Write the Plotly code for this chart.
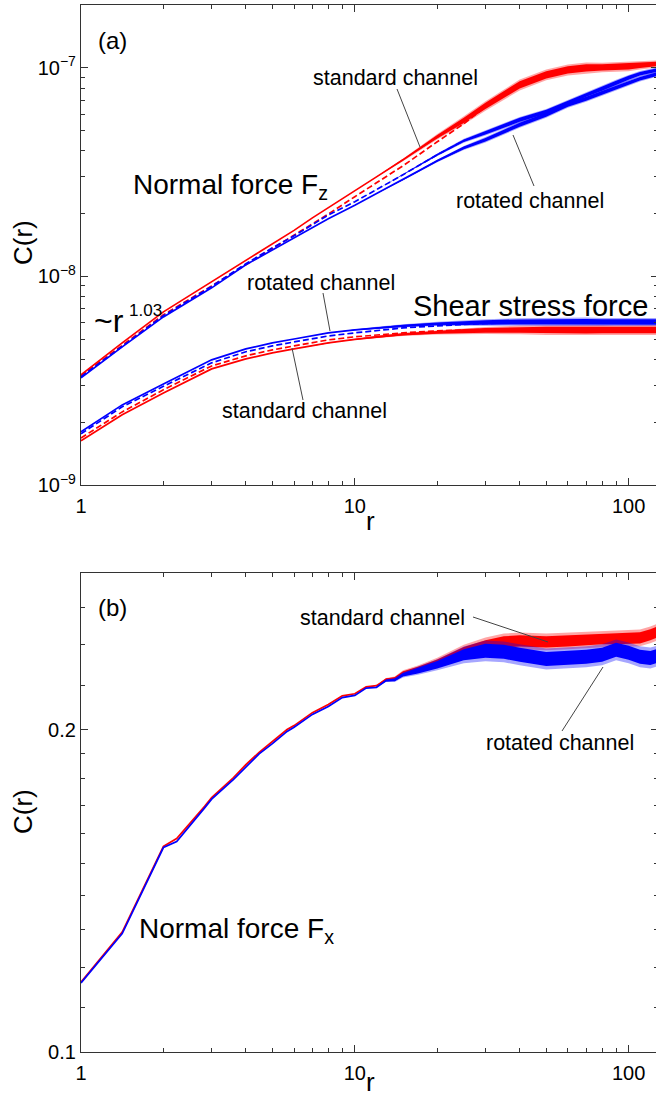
import numpy as np
import plotly.graph_objects as go

# ---------------- panel (a): normal force Fz and shear stress force ----------------
r_a = [1, 1.414, 2, 3, 4, 5, 6, 7, 8, 10, 12, 15, 20, 25, 30, 40, 50, 60, 70, 80, 90, 100, 110, 128]

fz_std_solid = [3.37e-9, 4.80e-9, 6.76e-9, 9.41e-9, 1.192e-8, 1.432e-8, 1.662e-8, 1.908e-8, 2.13e-8, 2.57e-8,
                3.00e-8, 3.62e-8, 4.67e-8, 5.60e-8, 6.57e-8, 8.29e-8, 9.26e-8, 9.78e-8, 1.0e-7, 1.005e-7,
                1.011e-7, 1.017e-7, 1.028e-7, 1.045e-7]
fz_std_dash = [3.33e-9, 4.69e-9, 6.54e-9, 9.00e-9, 1.136e-8, 1.355e-8, 1.564e-8, 1.785e-8, 1.99e-8, 2.41e-8,
               2.81e-8, 3.39e-8, 4.42e-8, 5.39e-8, 6.50e-8, 8.20e-8, 9.15e-8, 9.67e-8, 9.89e-8, 1.0e-7,
               1.005e-7, 1.011e-7, 1.022e-7, 1.039e-7]
fz_rot_solid = [3.26e-9, 4.59e-9, 6.39e-9, 8.81e-9, 1.136e-8, 1.34e-8, 1.53e-8, 1.71e-8, 1.89e-8, 2.19e-8,
                2.49e-8, 2.90e-8, 3.58e-8, 4.13e-8, 4.52e-8, 5.33e-8, 5.95e-8, 6.65e-8, 7.10e-8, 7.59e-8,
                8.02e-8, 8.48e-8, 8.86e-8, 9.36e-8]
fz_rot_dash = [3.30e-9, 4.64e-9, 6.47e-9, 8.95e-9, 1.15e-8, 1.37e-8, 1.564e-8, 1.77e-8, 1.97e-8, 2.28e-8,
               2.60e-8, 3.07e-8, 3.83e-8, 4.47e-8, 4.88e-8, 5.63e-8, 6.15e-8, 6.80e-8, 7.42e-8, 7.93e-8,
               8.48e-8, 8.95e-8, 9.36e-8, 9.78e-8]

sh_std_solid = [1.63e-9, 2.17e-9, 2.76e-9, 3.60e-9, 4.02e-9, 4.30e-9, 4.49e-9, 4.64e-9, 4.80e-9, 4.99e-9,
                5.13e-9, 5.27e-9, 5.39e-9, 5.48e-9, 5.51e-9, 5.54e-9, 5.53e-9, 5.54e-9, 5.52e-9, 5.54e-9,
                5.53e-9, 5.54e-9, 5.53e-9, 5.54e-9]
sh_std_dash = [1.68e-9, 2.24e-9, 2.86e-9, 3.72e-9, 4.16e-9, 4.44e-9, 4.64e-9, 4.80e-9, 4.96e-9, 5.13e-9,
               5.24e-9, 5.36e-9, 5.48e-9, 5.54e-9, 5.57e-9, 5.60e-9, 5.60e-9, 5.60e-9, 5.60e-9, 5.60e-9,
               5.60e-9, 5.60e-9, 5.60e-9, 5.60e-9]
sh_rot_solid = [1.80e-9, 2.42e-9, 3.05e-9, 3.98e-9, 4.49e-9, 4.80e-9, 5.01e-9, 5.18e-9, 5.36e-9, 5.54e-9,
                5.66e-9, 5.79e-9, 5.92e-9, 5.98e-9, 6.02e-9, 6.05e-9, 6.06e-9, 6.05e-9, 6.07e-9, 6.05e-9,
                6.06e-9, 6.05e-9, 6.06e-9, 6.05e-9]
sh_rot_dash = [1.76e-9, 2.37e-9, 2.97e-9, 3.85e-9, 4.35e-9, 4.64e-9, 4.85e-9, 5.01e-9, 5.18e-9, 5.36e-9,
               5.51e-9, 5.66e-9, 5.79e-9, 5.89e-9, 5.95e-9, 5.98e-9, 5.98e-9, 5.98e-9, 5.98e-9, 5.98e-9,
               5.98e-9, 5.98e-9, 5.98e-9, 5.98e-9]

# relative amplitude of the statistical fluctuations around each curve
fz_std_spread = [0] * 11 + [0.01, 0.02, 0.03, 0.035, 0.04, 0.04, 0.04, 0.04, 0.035, 0.035, 0.035, 0.03, 0.025]
fz_rot_spread = [0] * 11 + [0.005, 0.01, 0.015, 0.02, 0.022, 0.022, 0.022, 0.022, 0.022, 0.022, 0.022, 0.02, 0.02]
sh_std_spread = [0] * 9 + [0.005, 0.01, 0.012, 0.016, 0.022, 0.026, 0.032, 0.036, 0.036, 0.036, 0.036, 0.036, 0.036, 0.036, 0.036]
sh_rot_spread = [0] * 9 + [0.005, 0.008, 0.012, 0.015, 0.02, 0.024, 0.028, 0.03, 0.03, 0.03, 0.03, 0.03, 0.03, 0.03, 0.03]

# ---------------- panel (b): normal force Fx ----------------
r_b = [1, 1.414, 2, 2.236, 2.828, 3, 3.606, 4, 4.472, 5, 5.657, 6, 7, 8, 9, 10, 11, 12, 13, 14, 15, 17,
       20, 25, 30, 35, 40, 50, 60, 70, 80, 90, 100, 110, 120, 128]
fx_std = [0.1162, 0.1294, 0.1556, 0.1582, 0.1696, 0.1728, 0.1804, 0.1855, 0.1904, 0.1949, 0.2000, 0.2017,
          0.2074, 0.2111, 0.2150, 0.2160, 0.2192, 0.2198, 0.2228, 0.2232, 0.2258, 0.2278, 0.2309, 0.2364,
          0.2394, 0.2415, 0.2420, 0.2415, 0.2420, 0.2426, 0.2431, 0.2431, 0.2434, 0.2436, 0.2452, 0.2468]
fx_rot = [0.1160, 0.1290, 0.1552, 0.1572, 0.1690, 0.1722, 0.1797, 0.1843, 0.1898, 0.1940, 0.1992, 0.2010,
          0.2066, 0.2102, 0.2142, 0.2152, 0.2186, 0.2190, 0.2222, 0.2225, 0.2250, 0.2270, 0.2299, 0.2349,
          0.2369, 0.2364, 0.2349, 0.2328, 0.2333, 0.2339, 0.2349, 0.2374, 0.2359, 0.2339, 0.2333, 0.2344]
fx_std_spread = [0] * 18 + [0.002, 0.003, 0.004, 0.005, 0.007, 0.01] + [0.012] * 12
fx_rot_spread = [0] * 18 + [0.002, 0.003, 0.004, 0.006, 0.008, 0.012] + [0.015] * 12

RED = "#ff0000"
BLUE = "#0000ff"
RED_SOFT = "rgba(255,0,0,0.35)"
BLUE_SOFT = "rgba(0,0,255,0.35)"
FONT = "Liberation Sans, Arial, Helvetica, sans-serif"
AX = "#333333"
LW = 1.7

fig = go.Figure()


def fill_between(r, lo, hi, color, xa, ya):
    fig.add_trace(go.Scatter(x=r, y=lo, mode="lines", line=dict(width=0, color=color),
                             xaxis=xa, yaxis=ya, hoverinfo="skip", showlegend=False))
    fig.add_trace(go.Scatter(x=r, y=hi, mode="lines", line=dict(width=0, color=color),
                             fill="tonexty", fillcolor=color, xaxis=xa, yaxis=ya,
                             hoverinfo="skip", showlegend=False))


def band(r, v, s, color, soft, xa, ya):
    # soft outer fringe of the fluctuations, then the dense core
    fill_between(r, [a * (1 - 1.5 * b) for a, b in zip(v, s)],
                 [a * (1 + 1.5 * b) for a, b in zip(v, s)], soft, xa, ya)
    fill_between(r, [a * (1 - b) for a, b in zip(v, s)],
                 [a * (1 + b) for a, b in zip(v, s)], color, xa, ya)


def curve(r, v, color, dash, xa, ya):
    fig.add_trace(go.Scatter(x=r, y=v, mode="lines",
                             line=dict(color=color, width=LW, dash=dash),
                             xaxis=xa, yaxis=ya, showlegend=False))


DASH = "6px,3px"

# panel (a): standard channel (red) then rotated channel (blue)
band(r_a, fz_std_solid, fz_std_spread, RED, RED_SOFT, "x", "y")
band(r_a, sh_std_solid, sh_std_spread, RED, RED_SOFT, "x", "y")
curve(r_a, fz_std_solid, RED, "solid", "x", "y")
curve(r_a, fz_std_dash, RED, DASH, "x", "y")
curve(r_a, sh_std_solid, RED, "solid", "x", "y")
curve(r_a, sh_std_dash, RED, DASH, "x", "y")
band(r_a, fz_rot_solid, fz_rot_spread, BLUE, BLUE_SOFT, "x", "y")
band(r_a, fz_rot_dash, fz_rot_spread, BLUE, BLUE_SOFT, "x", "y")
band(r_a, sh_rot_solid, sh_rot_spread, BLUE, BLUE_SOFT, "x", "y")
curve(r_a, fz_rot_solid, BLUE, "solid", "x", "y")
curve(r_a, fz_rot_dash, BLUE, DASH, "x", "y")
curve(r_a, sh_rot_solid, BLUE, "solid", "x", "y")
curve(r_a, sh_rot_dash, BLUE, DASH, "x", "y")

# panel (b)
band(r_b, fx_std, fx_std_spread, RED, RED_SOFT, "x2", "y2")
curve(r_b, fx_std, RED, "solid", "x2", "y2")
band(r_b, fx_rot, fx_rot_spread, BLUE, BLUE_SOFT, "x2", "y2")
curve(r_b, fx_rot, BLUE, "solid", "x2", "y2")

x_major = [1, 10, 100]
x_minor = [2, 3, 4, 5, 6, 7, 8, 9, 20, 30, 40, 50, 60, 70, 80, 90, 200]


def xaxis_style():
    return dict(type="log", range=[0, np.log10(128)], tickmode="array", tickvals=x_major,
                ticktext=["1", "10", "100"], ticks="inside", ticklen=7, tickwidth=1.2, tickcolor=AX,
                minor=dict(tickmode="array", tickvals=x_minor, ticks="inside", ticklen=4,
                           tickwidth=1.1, tickcolor=AX, showgrid=False),
                showline=True, linecolor=AX, linewidth=1.3, mirror="ticks", showgrid=False,
                zeroline=False, automargin=False, ticklabelstandoff=3,
                tickfont=dict(family=FONT, size=20, color="black"))


def yaxis_common():
    return dict(ticks="inside", ticklen=7, tickwidth=1.2, tickcolor=AX,
                showline=True, linecolor=AX, linewidth=1.3, mirror="ticks", showgrid=False,
                zeroline=False, automargin=False, tickfont=dict(family=FONT, size=20, color="black"))


fig.update_layout(
    width=664, height=1100,
    margin=dict(l=81, r=6, t=5, b=48, autoexpand=False),
    paper_bgcolor="white", plot_bgcolor="white",
    font=dict(family=FONT, color="black"),
    xaxis=dict(domain=[0, 1], anchor="y", **xaxis_style()),
    xaxis2=dict(domain=[0, 1], anchor="y2", **xaxis_style()),
    yaxis=dict(domain=[0.5416, 1.0], anchor="x", type="log", range=[-9, np.log10(2e-7)],
               tickmode="array", tickvals=[1e-9, 1e-8, 1e-7],
               ticktext=["10<sup>\u22129</sup>", "10<sup>\u22128</sup>", "10<sup>\u22127</sup>"],
               minor=dict(tickmode="array",
                          tickvals=[k * 1e-9 for k in range(2, 10)] + [k * 1e-8 for k in range(2, 10)] + [2e-7],
                          ticks="inside", ticklen=4, tickwidth=1.1, tickcolor=AX, showgrid=False),
               **yaxis_common()),
    yaxis2=dict(domain=[0, 0.4575], anchor="x2", type="log", range=[-1, np.log10(0.28)],
                tickmode="array", tickvals=[0.1, 0.2], ticktext=["0.1", "0.2"],
                minor=dict(tickmode="array",
                           tickvals=[0.11, 0.12, 0.13, 0.14, 0.15, 0.16, 0.17, 0.18, 0.19, 0.22, 0.24, 0.26],
                           ticks="inside", ticklen=4, tickwidth=1.1, tickcolor=AX, showgrid=False),
                **yaxis_common()),
)

# pixel -> paper coordinate helpers for labels and leader lines
PL, PR, PB, PT = 81, 658, 1052, 5


def px(x):
    return (x - PL) / (PR - PL)


def py(y):
    return (PB - y) / (PB - PT)


def label(x, y, text, size, xanchor="center", angle=0):
    fig.add_annotation(x=px(x), y=py(y), xref="paper", yref="paper", text=text, showarrow=False,
                       xanchor=xanchor, yanchor="middle", textangle=angle,
                       font=dict(family=FONT, size=size, color="black"))


def leader(x0, y0, x1, y1):
    fig.add_shape(type="line", xref="paper", yref="paper", x0=px(x0), y0=py(y0), x1=px(x1), y1=py(y1),
                  line=dict(color="#444444", width=1))


# axis titles
label(23, 243, "C(r)", 26, angle=-90)
label(23, 812, "C(r)", 26, angle=-90)
label(370, 521, "r", 26)
label(370, 1082, "r", 26)

label(112, 40, "(a)", 24)
label(395, 78, "standard channel", 21.5)
leader(397, 89, 420, 147)
label(530, 201, "rotated channel", 21.5)
leader(513, 135, 534, 186)
label(131, 186, "Normal force F<sub>z</sub>", 28, "left")
label(92, 321, "~r", 32, "left")
label(127, 310, "1.03", 17, "left")
label(321, 283, "rotated channel", 21.5)
leader(323, 293, 330, 331)
label(304, 411, "standard channel", 21.5)
leader(292, 348, 303, 400)
label(411, 306, "Shear stress force", 29, "left")

label(112, 607, "(b)", 24)
label(382, 618, "standard channel", 21.5)
leader(473, 617, 548, 642)
label(560, 743, "rotated channel", 21.5)
leader(562, 731, 603, 667)
label(137, 930, "Normal force F<sub>x</sub>", 28, "left")

fig.write_html(
    "out.html",
    config={"displayModeBar": False},
    post_script=("document.documentElement.style.overflow='hidden';"
                 "document.body.style.overflow='hidden';document.body.style.margin='0';"),
)
